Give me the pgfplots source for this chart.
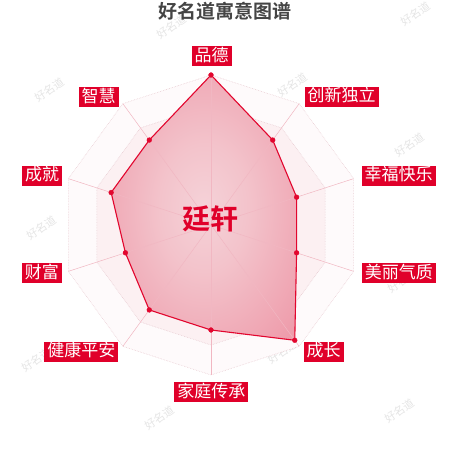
\documentclass[border=0pt]{standalone}
\usepackage{fontspec}
\usepackage{pgfplots}
\pgfplotsset{compat=1.18}
\newfontfamily\cjk{Noto Sans CJK SC}
\newfontfamily\cjkb{Noto Sans CJK SC Bold}

\definecolor{labred}{HTML}{E0002A}
\definecolor{linered}{HTML}{E2062E}
\definecolor{fill0}{HTML}{F5D2D8}
\definecolor{fill1}{HTML}{F3C3CB}
\definecolor{fill2}{HTML}{EFA2B0}
\definecolor{fill3}{HTML}{EA8A9B}
\definecolor{fill4}{HTML}{E77E91}
\definecolor{ringcol}{HTML}{E9CDD3}
\definecolor{spokecol}{HTML}{F1B7C2}
\definecolor{bandA}{HTML}{FEFAFB}
\definecolor{bandB}{HTML}{FCF0F2}
\definecolor{titlegray}{HTML}{454545}

% the shading is stretched onto the bounding box of the area
\pgfdeclareradialshading{radarfill}{\pgfpoint{0bp}{0bp}}{%
  color(0bp)=(fill0); color(12bp)=(fill1); color(30bp)=(fill2);
  color(44bp)=(fill3); color(50bp)=(fill4); color(70bp)=(fill4)}

\tikzset{
  lab/.style={fill=labred, text=white, font=\cjk\fontsize{17}{17}\selectfont,
    inner xsep=3pt, inner ysep=1pt, text height=14pt, text depth=4pt},
  wm/.style={font=\cjk\fontsize{11}{11}\selectfont, text=black!10, rotate=35},
}

\begin{document}
\begin{tikzpicture}[x=1pt,y=1pt]
\useasboundingbox (0,0) rectangle (450,450);

% watermarks
\foreach \wx/\wy in {172/27, 416/14, 50/90, 293/85, 410/145, 170/150, 42/228,
                     403/281, 37/360, 283/352, 160/418, 400/411}
  \node[wm] at (\wx,450-\wy) {好名道};

% centre of the radar at (211,225) px, outer ring radius 150 px
\begin{axis}[
    at={(0,0)}, anchor=south west,
    width=450pt, height=450pt, scale only axis,
    hide axis,
    xmin=-1.406667, xmax=1.593333,
    ymin=-1.5, ymax=1.5,
    clip=false,
    data cs=polar,
]
% background bands
\addplot[draw=none, fill=bandA] coordinates {
  (90,1) (54,1) (18,1) (-18,1) (-54,1) (-90,1) (-126,1) (-162,1) (162,1) (126,1) (90,1)};
\addplot[draw=none, fill=bandB] coordinates {
  (90,0.8) (54,0.8) (18,0.8) (-18,0.8) (-54,0.8) (-90,0.8) (-126,0.8) (-162,0.8) (162,0.8) (126,0.8) (90,0.8)};
% rings
\pgfplotsinvokeforeach{0.2,0.4,0.6,0.8,1.0}{
  \addplot[ringcol, densely dotted, line width=0.6pt] coordinates {
    (90,#1) (54,#1) (18,#1) (-18,#1) (-54,#1) (-90,#1) (-126,#1) (-162,#1) (162,#1) (126,#1) (90,#1)};
}
% data area
\addplot[draw=linered, line width=1.1pt, shade, shading=radarfill] coordinates {
  (90,1.00) (54,0.70) (18,0.60) (-18,0.60) (-54,0.95)
  (-90,0.70) (-126,0.70) (-162,0.60) (162,0.70) (126,0.70) (90,1.00)};
% spokes
\pgfplotsinvokeforeach{90,54,18,-18,-54,-90,-126,-162,162,126}{
  \addplot[spokecol, line width=0.5pt] coordinates {(#1,0) (#1,1)};
}
% points
\addplot[only marks, mark=*, mark size=2.4pt, mark options={fill=linered, draw=linered}] coordinates {
  (90,1.00) (54,0.70) (18,0.60) (-18,0.60) (-54,0.95)
  (-90,0.70) (-126,0.70) (-162,0.60) (162,0.70) (126,0.70)};
\end{axis}

% title and name
\node[font=\cjkb\fontsize{19}{19}\selectfont, text=titlegray] at (224.7,450-11) {好名道寓意图谱};
\node[font=\cjkb\fontsize{28}{28}\selectfont, text=labred] at (210,450-219) {廷轩};

% axis labels
\node[lab] at (211.5,450-56.5) {品德};
\node[lab] at (341.5,450-97) {创新独立};
\node[lab] at (398.7,450-176) {幸福快乐};
\node[lab] at (398.8,450-273.3) {美丽气质};
\node[lab] at (323.7,450-351.7) {成长};
\node[lab] at (211.3,450-392.5) {家庭传承};
\node[lab] at (81.3,450-351.7) {健康平安};
\node[lab] at (41.8,450-273.3) {财富};
\node[lab] at (42,450-176) {成就};
\node[lab] at (98.7,450-97.3) {智慧};
\end{tikzpicture}
\end{document}
